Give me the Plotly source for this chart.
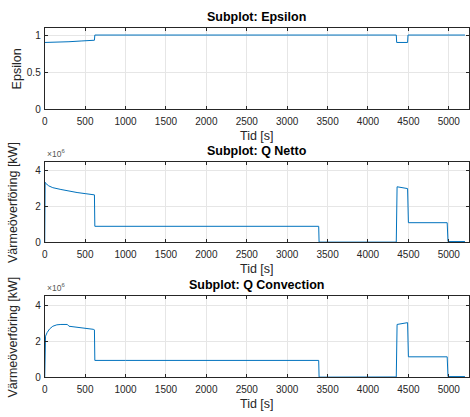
import plotly.graph_objects as go

# ---- data ----
t_eps = [0, 280, 300, 450, 600, 615, 620, 4350, 4355, 4490, 4495, 5200]
eps = [0.9, 0.9, 0.91, 0.92, 0.93, 0.93, 1.0, 1.0, 0.9, 0.9, 1.0, 1.0]

t_net = [0, 5, 10, 50, 100, 200, 300, 400, 500, 600, 615, 620, 1000, 2000, 3000, 3390, 3395,
         4000, 4350, 4360, 4490, 4500, 4980, 4990, 5200]
q_net = [0.0, 3.35e6, 3.3e6, 3.15e6, 3.05e6, 2.95e6, 2.85e6, 2.78e6, 2.72e6, 2.67e6, 2.65e6,
         0.9e6, 0.9e6, 0.9e6, 0.9e6, 0.9e6, 0.02e6, 0.02e6, 0.02e6, 3.1e6, 3.0e6, 1.1e6,
         1.1e6, 0.05e6, 0.05e6]

t_conv = [0, 5, 10, 30, 60, 100, 150, 200, 280, 300, 400, 500, 600, 615, 620, 1000, 2000, 3000,
          3390, 3395, 4000, 4350, 4360, 4490, 4500, 4980, 4990, 5200]
q_conv = [0.0, 2.2e6, 2.3e6, 2.5e6, 2.7e6, 2.85e6, 2.93e6, 2.95e6, 2.95e6, 2.85e6, 2.8e6,
          2.75e6, 2.68e6, 2.65e6, 0.95e6, 0.95e6, 0.95e6, 0.95e6, 0.95e6, 0.02e6, 0.02e6,
          0.03e6, 2.95e6, 3.05e6, 1.15e6, 1.15e6, 0.05e6, 0.05e6]

x_ticks = [0, 500, 1000, 1500, 2000, 2500, 3000, 3500, 4000, 4500, 5000]
titles = ["Subplot: Epsilon", "Subplot: Q Netto", "Subplot: Q Convection"]
ylabels = ["Epsilon", "Värmeöverföring [kW]", "Värmeöverföring [kW]"]
xlabel = "Tid [s]"

W, H = 470, 417
FONT = "Liberation Sans, Arial, Helvetica, sans-serif"
BLUE = "#0072BD"
AX = "#262626"

# pixel boxes (top, bottom)
boxes = [(28, 111), (164, 246), (300, 383)]
x0p, x1p = 42, 469

def py(p):
    return 1 - p / H

fig = go.Figure()
series = [(t_eps, eps), (t_net, q_net), (t_conv, q_conv)]
yranges = [[0, 1.1], [0, 4.5e6], [0, 4.55e6]]
ytickvals = [[0, 0.5, 1], [0, 2e6, 4e6], [0, 2e6, 4e6]]
yticktext = [["0", "0.5", "1"], ["0", "2", "4"], ["0", "2", "4"]]

for i, (tx, ty) in enumerate(series):
    n = "" if i == 0 else str(i + 1)
    fig.add_trace(go.Scatter(x=tx, y=ty, mode="lines", line=dict(color=BLUE, width=1),
                             xaxis="x" + n, yaxis="y" + n, showlegend=False))
    top, bot = boxes[i]
    common = dict(showline=True, linecolor=AX, linewidth=1, mirror="ticks", ticks="inside",
                  ticklen=3, tickcolor=AX, showgrid=True, gridcolor="#e6e6e6", gridwidth=1,
                  zeroline=False, tickfont=dict(family=FONT, size=10, color=AX))
    fig.layout["xaxis" + n] = dict(domain=[x0p / W, x1p / W], range=[0, 5250],
                                   anchor="y" + n, tickvals=x_ticks,
                                   ticklabelstandoff=3, **common)
    fig.layout["yaxis" + n] = dict(domain=[py(bot), py(top)], range=yranges[i],
                                   anchor="x" + n, tickvals=ytickvals[i],
                                   ticktext=yticktext[i], ticklabelstandoff=1, **common)
    # title
    fig.add_annotation(text="<b>" + titles[i] + "</b>", x=(x0p + x1p) / 2 / W,
                       y=py(top - 10.5),
                       xref="paper", yref="paper", xanchor="center", yanchor="middle",
                       showarrow=False, font=dict(family=FONT, size=12.5, color="#000"))
    # x label
    fig.add_annotation(text=xlabel, x=(x0p + x1p) / 2 / W, y=py(bot + 27),
                       xref="paper", yref="paper", xanchor="center", yanchor="middle",
                       showarrow=False, font=dict(family=FONT, size=12.5, color=AX))
    # y label
    fig.add_annotation(text=ylabels[i], x=(15 if i == 0 else 10) / W, y=py((top + bot) / 2),
                       xref="paper", yref="paper", xanchor="center", yanchor="middle",
                       textangle=-90, showarrow=False,
                       font=dict(family=FONT, size=12.5, color=AX))
    if i > 0:
        fig.add_annotation(text="×10<sup>6</sup>", x=(x0p) / W, y=py(top - 1),
                           xref="paper", yref="paper", xanchor="left", yanchor="bottom",
                           showarrow=False, font=dict(family=FONT, size=8.5, color="#555"))

fig.update_layout(width=W, height=H, margin=dict(l=0, r=0, t=0, b=0),
                  paper_bgcolor="white", plot_bgcolor="white")
fig.write_html("out.html")
